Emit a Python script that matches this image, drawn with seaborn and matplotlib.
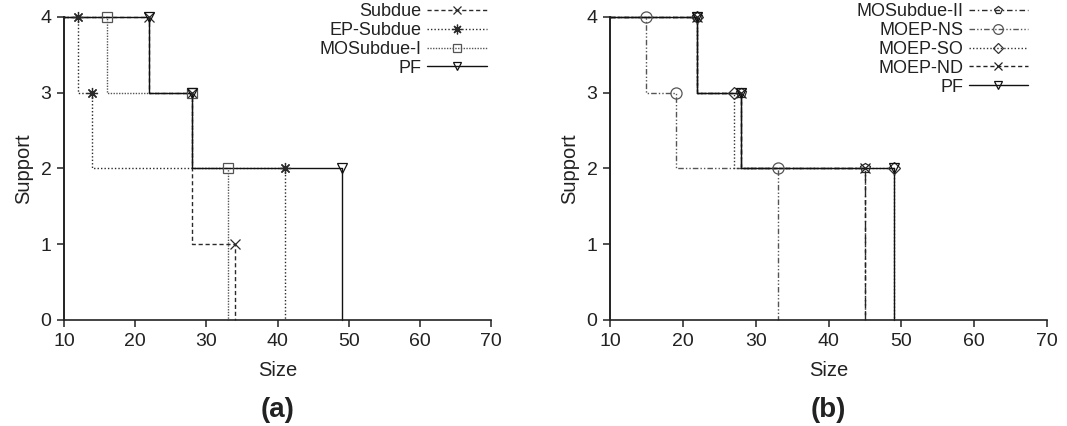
import numpy as np
import pandas as pd
import matplotlib
matplotlib.use("Agg")
import matplotlib.pyplot as plt
from matplotlib.lines import Line2D
import seaborn as sns

# ---------------- data ----------------
# panel (a)
a_names = ["Subdue", "EP-Subdue", "MOSubdue-I", "PF"]
subdue_size = [22, 28, 34]
subdue_support = [4, 3, 1]
ep_subdue_size = [12, 14, 41]
ep_subdue_support = [4, 3, 2]
mosubdue1_size = [16, 28, 33]
mosubdue1_support = [4, 3, 2]
pf_size = [22, 28, 49]
pf_support = [4, 3, 2]

# panel (b)
b_names = ["MOSubdue-II", "MOEP-NS", "MOEP-SO", "MOEP-ND", "PF"]
mosubdue2_size = [22, 28, 45]
mosubdue2_support = [4, 3, 2]
moep_ns_size = [15, 19, 33]
moep_ns_support = [4, 3, 2]
moep_so_size = [22, 27, 49]
moep_so_support = [4, 3, 2]
moep_nd_size = [22, 28, 45]
moep_nd_support = [4, 3, 2]

x_ticks = [10, 20, 30, 40, 50, 60, 70]
y_ticks = [0, 1, 2, 3, 4]
XMIN, XMAX = 10, 70

# ---------------- style ----------------
sns.set_theme(style="ticks")
plt.rcParams["font.family"] = ["Liberation Sans", "DejaVu Sans"]

styles_a = {
    "Subdue":     dict(ls=(0, (3, 2)), color="#2a2a2a", marker="x", ms=7),
    "EP-Subdue":  dict(ls=(0, (1, 1.5)), color="#2a2a2a", marker=(8, 2, 0), ms=8),
    "MOSubdue-I": dict(ls=(0, (1, 1)), color="#555555", marker="s", ms=7),
    "PF":         dict(ls="-", color="#111111", marker="v", ms=7),
}
styles_b = {
    "MOSubdue-II": dict(ls=(0, (4, 2, 1, 2)), color="#2a2a2a", marker="p", ms=7),
    "MOEP-NS":     dict(ls=(0, (4, 1.5, 1, 1.5, 1, 1.5)), color="#555555", marker="o", ms=8),
    "MOEP-SO":     dict(ls=(0, (1, 1.5)), color="#333333", marker="D", ms=6),
    "MOEP-ND":     dict(ls=(0, (3, 2)), color="#222222", marker="x", ms=7),
    "PF":          dict(ls="-", color="#111111", marker="v", ms=7),
}

W, H = 1067, 426
fig = plt.figure(figsize=(W / 100, H / 100), dpi=100)
ax_a = fig.add_axes([64 / W, 1 - 320 / H, (491 - 64) / W, (320 - 17) / H])
ax_b = fig.add_axes([610 / W, 1 - 320 / H, (1047 - 610) / W, (320 - 17) / H])


def draw_series(ax, sizes, supports, st):
    # step path: from axis start at first support, steps down, ends at 0
    px = [XMIN] + list(sizes) + [sizes[-1]]
    py = [supports[0]] + list(supports) + [0]
    df = pd.DataFrame({"x": px, "y": py})
    sns.lineplot(data=df, x="x", y="y", ax=ax, estimator=None, sort=False,
                 drawstyle="steps-pre", color=st["color"], linestyle=st["ls"],
                 linewidth=1.0, clip_on=False)
    dm = pd.DataFrame({"x": sizes, "y": supports})
    filled = st["marker"] in ("s", "v", "o", "D", "p")
    sns.lineplot(data=dm, x="x", y="y", ax=ax, estimator=None, sort=False,
                 linestyle="none", marker=st["marker"], ms=st["ms"],
                 mfc="none" if filled else st["color"], mec=st["color"],
                 mew=0.9, clip_on=False, zorder=5)


def handle(st):
    filled = st["marker"] in ("s", "v", "o", "D", "p")
    return Line2D([], [], color=st["color"], linestyle=st["ls"], linewidth=1.0,
                  marker=st["marker"], ms=st["ms"] - 1,
                  mfc="none" if filled else st["color"], mec=st["color"], mew=0.9)


def style_axes(ax, label):
    ax.set_xlim(XMIN, XMAX)
    ax.set_ylim(0, 4)
    ax.set_xticks(x_ticks)
    ax.set_yticks(y_ticks)
    ax.tick_params(axis="both", direction="out", length=5, width=1.1,
                   labelsize=14, pad=4, color="#222222", labelcolor="#222222")
    for side in ("top", "right"):
        ax.spines[side].set_visible(False)
    ax.spines["left"].set_linewidth(1.4)
    ax.spines["bottom"].set_linewidth(1.2)
    ax.spines["left"].set_color("#222222")
    ax.spines["bottom"].set_color("#222222")
    ax.set_xlabel("Size", fontsize=14.5, color="#222222", labelpad=8)
    ax.set_ylabel("Support", fontsize=14.5, color="#222222", labelpad=5)
    pos = ax.get_position()
    fig.text(pos.x0 + pos.width / 2, 1 - 410 / H, label, ha="center",
             va="center", fontsize=20, fontweight="bold", color="#222222")


data_a = {
    "Subdue": (subdue_size, subdue_support),
    "EP-Subdue": (ep_subdue_size, ep_subdue_support),
    "MOSubdue-I": (mosubdue1_size, mosubdue1_support),
    "PF": (pf_size, pf_support),
}
data_b = {
    "MOSubdue-II": (mosubdue2_size, mosubdue2_support),
    "MOEP-NS": (moep_ns_size, moep_ns_support),
    "MOEP-SO": (moep_so_size, moep_so_support),
    "MOEP-ND": (moep_nd_size, moep_nd_support),
    "PF": (pf_size, pf_support),
}

for name in a_names:
    s, v = data_a[name]
    draw_series(ax_a, s, v, styles_a[name])
for name in b_names:
    s, v = data_b[name]
    draw_series(ax_b, s, v, styles_b[name])

style_axes(ax_a, "(a)")
style_axes(ax_b, "(b)")

for ax, names, styles, xr in ((ax_a, a_names, styles_a, 0.99),
                              (ax_b, b_names, styles_b, 0.957)):
    ax.legend(handles=[handle(styles[n]) for n in names], labels=names,
              loc="upper right", bbox_to_anchor=(xr, 1.045), frameon=False,
              markerfirst=False, fontsize=13, handlelength=3.3,
              handletextpad=0.3, labelspacing=0.1, borderaxespad=0.0,
              borderpad=0.0, labelcolor="#222222")

fig.savefig("out.png", dpi=100)
